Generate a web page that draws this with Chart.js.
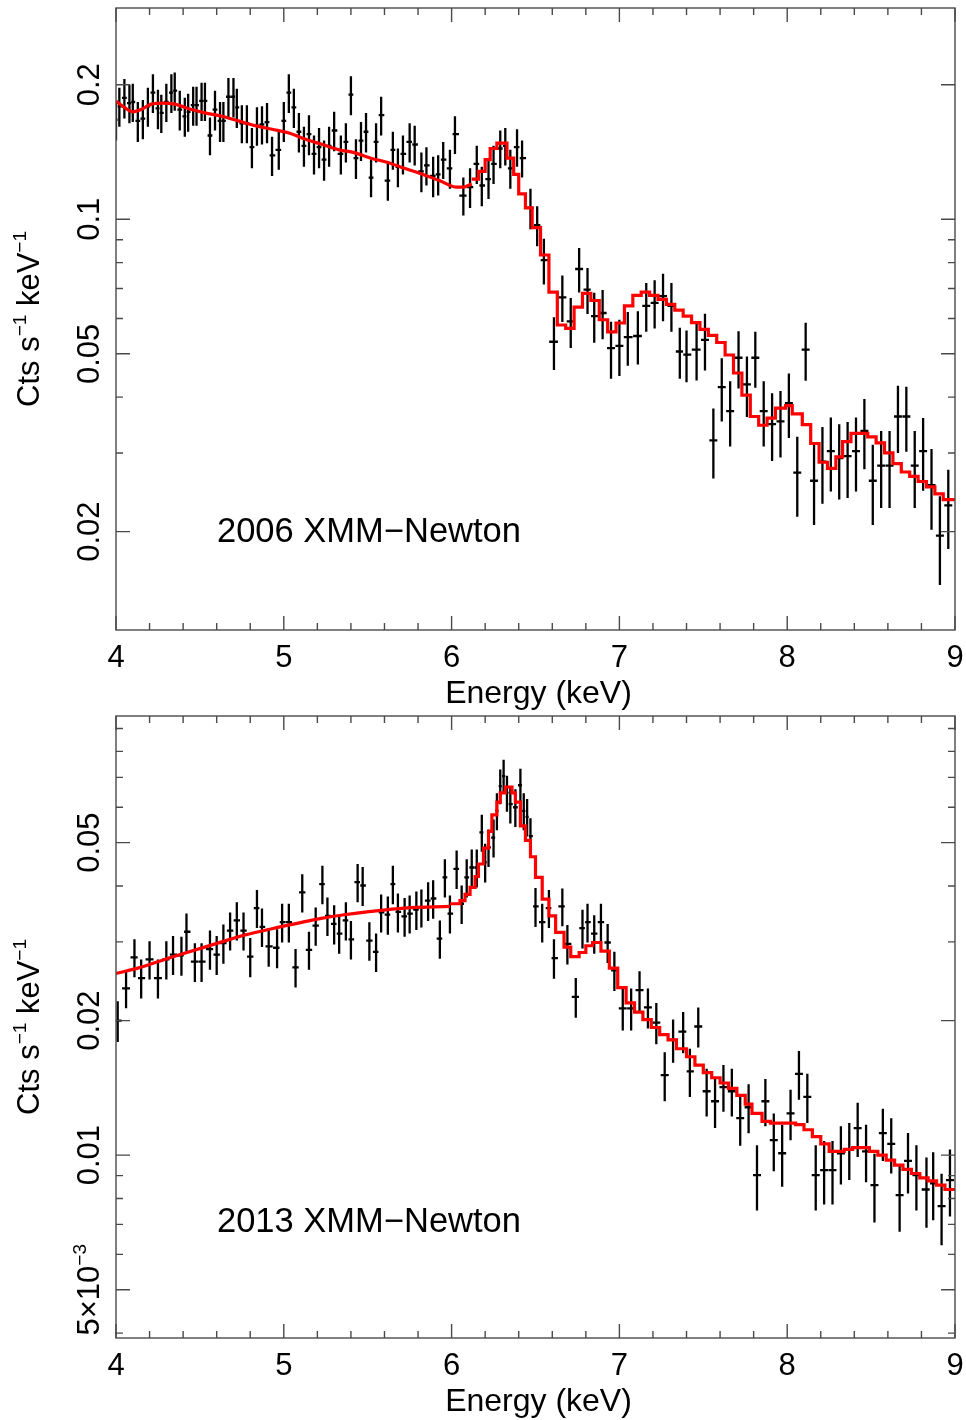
<!DOCTYPE html>
<html>
<head>
<meta charset="utf-8">
<script src="https://cdn.jsdelivr.net/npm/chart.js@4.4.1/dist/chart.umd.min.js"></script>
<style>
  body { margin: 0; background: #fff; }
  #wrap { position: relative; width: 966px; height: 1420px; }
  canvas { position: absolute; left: 0; }
</style>
</head>
<body>
<div id="wrap">
  <canvas id="spec2006" width="966" height="720" style="top:0"></canvas>
  <canvas id="spec2013" width="966" height="712" style="top:708px"></canvas>
</div>
<script>
// ---- 2006 XMM-Newton spectrum: bin centres (keV), rate (cts/s/keV), 1-sigma error
const energy2006 = [
  4.00,4.02,4.05,4.08,4.10,4.13,4.16,4.19,4.22,4.25,
  4.27,4.30,4.33,4.35,4.38,4.41,4.43,4.46,4.48,4.51,
  4.53,4.56,4.59,4.62,4.64,4.67,4.70,4.72,4.75,4.78,
  4.81,4.84,4.87,4.90,4.93,4.97,5.00,5.03,5.06,5.09,
  5.12,5.15,5.18,5.21,5.24,5.27,5.30,5.34,5.37,5.40,
  5.43,5.46,5.49,5.52,5.55,5.58,5.62,5.65,5.68,5.71,
  5.75,5.78,5.82,5.85,5.89,5.92,5.95,5.99,6.02,6.07,
  6.11,6.15,6.18,6.22,6.25,6.29,6.32,6.35,6.39,6.42,
  6.47,6.51,6.55,6.61,6.66,6.71,6.76,6.81,6.85,6.90,
  6.95,7.00,7.05,7.11,7.16,7.21,7.26,7.31,7.36,7.40,
  7.46,7.51,7.56,7.61,7.66,7.71,7.76,7.81,7.86,7.91,
  7.96,8.01,8.06,8.11,8.16,8.21,8.26,8.31,8.36,8.41,
  8.46,8.51,8.56,8.61,8.66,8.71,8.76,8.81,8.86,8.91,8.96
];
const rate2006 = [
  0.167,0.179,0.187,0.182,0.183,0.166,0.168,0.179,0.192,0.177,
  0.173,0.183,0.192,0.194,0.176,0.170,0.174,0.180,0.180,0.184,
  0.184,0.154,0.176,0.166,0.166,0.188,0.188,0.178,0.164,0.164,
  0.145,0.162,0.163,0.165,0.139,0.143,0.166,0.192,0.178,0.157,
  0.146,0.155,0.140,0.145,0.136,0.146,0.158,0.140,0.149,0.190,
  0.137,0.150,0.157,0.124,0.149,0.171,0.122,0.143,0.131,0.140,
  0.149,0.147,0.128,0.132,0.125,0.126,0.136,0.130,0.155,0.113,
  0.118,0.133,0.119,0.123,0.133,0.144,0.146,0.130,0.145,0.137,
  0.106,0.097,0.081,0.0532,0.0669,0.0591,0.0774,0.0696,0.0607,0.0617,
  0.0515,0.0521,0.0545,0.0548,0.0640,0.0650,0.0673,0.0640,0.0506,0.0498,
  0.0511,0.0537,0.0320,0.0421,0.0372,0.0490,0.0427,0.0490,0.0372,0.0348,
  0.0353,0.0388,0.0271,0.0511,0.0260,0.0287,0.0303,0.0292,0.0295,0.0303,
  0.0336,0.0260,0.0281,0.0281,0.0362,0.0362,0.0281,0.0303,0.0254,0.0196,0.0229
];
const err2006 = [
  0.017,0.018,0.019,0.018,0.018,0.017,0.017,0.018,0.019,0.018,
  0.017,0.018,0.019,0.019,0.018,0.017,0.017,0.018,0.018,0.018,
  0.018,0.015,0.018,0.017,0.017,0.019,0.019,0.018,0.016,0.016,
  0.015,0.016,0.016,0.017,0.014,0.014,0.017,0.019,0.018,0.016,
  0.015,0.016,0.014,0.015,0.014,0.015,0.016,0.014,0.015,0.019,
  0.014,0.015,0.016,0.012,0.015,0.017,0.012,0.014,0.013,0.014,
  0.015,0.015,0.013,0.013,0.013,0.013,0.013,0.013,0.015,0.011,
  0.012,0.013,0.012,0.012,0.013,0.014,0.014,0.013,0.014,0.013,
  0.011,0.010,0.0095,0.0072,0.0080,0.0076,0.0088,0.0082,0.0078,0.0078,
  0.0075,0.0075,0.0075,0.0075,0.0080,0.0080,0.0082,0.0080,0.0066,0.0066,
  0.0075,0.0078,0.0057,0.0068,0.0062,0.0072,0.0066,0.0070,0.0062,0.0060,
  0.0060,0.0064,0.0055,0.0076,0.0053,0.0056,0.0057,0.0056,0.0057,0.0057,
  0.0060,0.0053,0.0055,0.0055,0.0062,0.0060,0.0055,0.0056,0.0052,0.0044,0.0046
];
// folded model: finely binned continuum below the Fe line ...
const modelLowE2006 = [4.00,4.05,4.10,4.15,4.21,4.28,4.35,4.45,4.53,4.63,4.73,4.83,4.93,
  5.03,5.13,5.23,5.33,5.42,5.52,5.62,5.72,5.83,5.93,6.03,6.07,6.12];
const modelLow2006 = [0.184,0.178,0.174,0.176,0.181,0.182,0.181,0.176,0.173,0.170,0.166,0.162,0.159,
  0.156,0.151,0.147,0.143,0.141,0.137,0.134,0.130,0.126,0.122,0.118,0.118,0.120];
// ... and wider bins above it (left edges; the last entry closes the final bin)
const modelBinE2006 = [6.12,6.16,6.20,6.23,6.27,6.33,6.37,6.40,6.44,6.48,
  6.53,6.58,6.63,6.68,6.73,6.78,6.83,6.88,6.93,6.98,
  7.03,7.08,7.13,7.18,7.23,7.28,7.33,7.38,7.43,7.48,
  7.53,7.58,7.63,7.68,7.73,7.78,7.83,7.88,7.93,7.99,
  8.03,8.09,8.14,8.19,8.24,8.29,8.33,8.38,8.43,8.48,
  8.53,8.58,8.63,8.68,8.73,8.78,8.83,8.88,8.93,9.00];
const modelBin2006 = [0.123,0.128,0.136,0.144,0.148,0.137,0.126,0.114,0.106,0.0958,
  0.0832,0.0687,0.0580,0.0570,0.0636,0.0683,0.0658,0.0596,0.0560,0.0586,
  0.0640,0.0676,0.0687,0.0676,0.0662,0.0645,0.0626,0.0607,0.0587,0.0567,
  0.0550,0.0530,0.0497,0.0453,0.0404,0.0362,0.0346,0.0359,0.0378,0.0383,
  0.0367,0.0347,0.0315,0.0286,0.0277,0.0294,0.0318,0.0332,0.0332,0.0326,
  0.0316,0.0300,0.0284,0.0272,0.0266,0.0259,0.0252,0.0243,0.0236,0.0236];

// ---- 2013 XMM-Newton spectrum
const energy2013 = [
  4.01,4.06,4.11,4.15,4.20,4.25,4.30,4.34,4.39,4.42,
  4.47,4.51,4.56,4.60,4.64,4.68,4.72,4.76,4.80,4.84,
  4.87,4.91,4.96,4.99,5.03,5.07,5.11,5.15,5.19,5.23,
  5.26,5.30,5.33,5.37,5.40,5.44,5.47,5.51,5.55,5.58,
  5.62,5.65,5.68,5.72,5.75,5.79,5.82,5.86,5.89,5.93,
  5.96,5.99,6.03,6.06,6.09,6.12,6.15,6.18,6.20,6.22,
  6.25,6.27,6.29,6.31,6.33,6.35,6.38,6.41,6.43,6.45,
  6.47,6.50,6.54,6.58,6.61,6.66,6.69,6.74,6.78,6.81,
  6.85,6.89,6.93,6.97,7.02,7.07,7.12,7.17,7.22,7.27,
  7.32,7.38,7.42,7.47,7.52,7.57,7.62,7.67,7.72,7.77,
  7.82,7.87,7.92,7.97,8.02,8.07,8.12,8.17,8.22,8.27,
  8.32,8.37,8.42,8.47,8.52,8.57,8.62,8.67,8.72,8.77,
  8.83,8.87,8.92,8.97
];
const rate2013 = [
  0.0200,0.0236,0.0277,0.0249,0.0274,0.0249,0.0274,0.0281,0.0280,0.0316,
  0.0271,0.0271,0.0289,0.0281,0.0298,0.0318,0.0335,0.0318,0.0278,0.0357,
  0.0324,0.0293,0.0291,0.0332,0.0332,0.0263,0.0387,0.0288,0.0326,0.0404,
  0.0343,0.0329,0.0313,0.0335,0.0304,0.0408,0.0401,0.0302,0.0285,0.0349,
  0.0345,0.0404,0.0350,0.0342,0.0347,0.0354,0.0358,0.0371,0.0375,0.0305,
  0.0418,0.0347,0.0437,0.0365,0.0418,0.0440,0.0440,0.0527,0.0452,0.0488,
  0.0513,0.0589,0.0669,0.0704,0.0646,0.0610,0.0600,0.0672,0.0589,0.0571,
  0.0517,0.0360,0.0332,0.0357,0.0276,0.0360,0.0297,0.0226,0.0322,0.0332,
  0.0313,0.0332,0.0299,0.0259,0.0213,0.0213,0.0234,0.0214,0.0198,0.0151,
  0.0181,0.0189,0.0154,0.0194,0.0139,0.0132,0.0142,0.0139,0.0121,0.0128,
  0.00902,0.0132,0.0108,0.0101,0.0124,0.0152,0.0135,0.00902,0.00926,0.00926,
  0.0101,0.0103,0.0115,0.0102,0.00857,0.0112,0.0106,0.00814,0.00971,0.00902,
  0.00838,0.00865,0.00769,0.00879
];
const err2013 = [
  0.0021,0.0023,0.0027,0.0025,0.0027,0.0025,0.0027,0.0028,0.0028,0.0031,
  0.0027,0.0027,0.0029,0.0028,0.0030,0.0031,0.0033,0.0031,0.0028,0.0035,
  0.0032,0.0029,0.0029,0.0033,0.0033,0.0026,0.0038,0.0028,0.0032,0.0040,
  0.0034,0.0033,0.0031,0.0033,0.0030,0.0040,0.0040,0.0030,0.0028,0.0034,
  0.0034,0.0040,0.0035,0.0034,0.0034,0.0035,0.0035,0.0037,0.0037,0.0030,
  0.0041,0.0034,0.0043,0.0036,0.0041,0.0043,0.0043,0.0050,0.0045,0.0047,
  0.0050,0.0056,0.0060,0.0062,0.0060,0.0058,0.0058,0.0060,0.0056,0.0055,
  0.0050,0.0036,0.0033,0.0035,0.0028,0.0035,0.0030,0.0023,0.0032,0.0033,
  0.0031,0.0033,0.0030,0.0026,0.0023,0.0023,0.0024,0.0022,0.0021,0.0019,
  0.0020,0.0020,0.0019,0.0020,0.0017,0.0017,0.0017,0.0017,0.0016,0.0016,
  0.0015,0.0016,0.0016,0.0016,0.0016,0.0019,0.0017,0.0015,0.0015,0.0015,
  0.0015,0.0015,0.0016,0.0015,0.0015,0.0015,0.0015,0.0014,0.0015,0.0015,
  0.0015,0.0015,0.0014,0.0015
];
const modelLowE2013 = [4.00,4.13,4.33,4.63,4.77,4.93,5.23,5.36,5.52,5.72,5.99];
const modelLow2013 = [0.0255,0.0262,0.0277,0.0300,0.0311,0.0321,0.0339,0.0345,0.0351,0.0357,0.0360];
const modelBinE2013 = [5.99,6.05,6.08,6.11,6.14,6.16,6.19,6.22,6.24,6.27,
  6.29,6.32,6.36,6.38,6.41,6.44,6.47,6.50,6.54,6.58,
  6.62,6.67,6.71,6.76,6.80,6.84,6.89,6.94,6.99,7.04,
  7.09,7.14,7.19,7.24,7.29,7.34,7.40,7.45,7.50,7.55,
  7.60,7.65,7.70,7.75,7.79,7.85,7.90,7.95,8.00,8.05,
  8.10,8.15,8.20,8.25,8.30,8.34,8.39,8.44,8.49,8.54,
  8.59,8.64,8.69,8.74,8.79,8.84,8.89,8.94,9.00];
const modelBin2013 = [0.0365,0.0371,0.0383,0.0397,0.0420,0.0448,0.0486,0.0530,0.0577,0.0616,
  0.0646,0.0666,0.0646,0.0616,0.0545,0.0506,0.0465,0.0418,0.0374,0.0343,
  0.0315,0.0292,0.0278,0.0284,0.0294,0.0299,0.0286,0.0262,0.0237,0.0219,
  0.0209,0.0201,0.0193,0.0186,0.0181,0.0173,0.0166,0.0159,0.0153,0.0149,
  0.0145,0.0141,0.0136,0.0130,0.0124,0.0119,0.0118,0.0118,0.0118,0.0117,
  0.0114,0.0110,0.0106,0.0102,0.0102,0.0103,0.0104,0.0104,0.0102,0.0100,
  0.00975,0.00950,0.00929,0.00910,0.00890,0.00876,0.00857,0.00838,0.00838];

// axis ticks and labels
const energyTicks = [4, 5, 6, 7, 8, 9];
const rateTicks2006 = [0.02, 0.05, 0.1, 0.2];
const rateLabels2006 = [[['0.02']], [['0.05']], [['0.1']], [['0.2']]];
const rateTicks2013 = [0.005, 0.01, 0.02, 0.05];
const rateLabels2013 = [[['5×10'], ['−3', true]], [['0.01']], [['0.02']], [['0.05']]];

const FONT = '"Liberation Sans", Arial, Helvetica, sans-serif';

// text turned to read bottom-to-top, centred on (x, y); x is the baseline
function rotatedText(ctx, x, y, parts, size) {
  const small = Math.round(size * 0.62);
  const widths = parts.map(([t, up]) => {
    ctx.font = (up ? small : size) + 'px ' + FONT;
    return ctx.measureText(t).width;
  });
  const total = widths.reduce((a, b) => a + b, 0);
  ctx.save();
  ctx.translate(x, y);
  ctx.rotate(-Math.PI / 2);
  ctx.textAlign = 'left';
  ctx.textBaseline = 'alphabetic';
  let cx = -total / 2;
  parts.forEach(([t, up], i) => {
    ctx.font = (up ? small : size) + 'px ' + FONT;
    ctx.fillText(t, cx, up ? -size * 0.42 : 0);
    cx += widths[i];
  });
  ctx.restore();
}

const spectrumFrame = {
  id: 'spectrumFrame',
  // data crosses go under the model curve
  beforeDatasetsDraw(chart, args, opts) {
    const { ctx, chartArea: a, scales: { x: xs, y: ys } } = chart;
    const ds = chart.data.datasets[opts.dataIndex];
    const meta = chart.getDatasetMeta(opts.dataIndex);
    const pts = ds.data;
    ctx.save();
    ctx.beginPath();
    ctx.rect(a.left, a.top, a.right - a.left, a.bottom - a.top);
    ctx.clip();
    ctx.strokeStyle = '#000';
    ctx.lineWidth = 2.3;
    ctx.beginPath();
    meta.data.forEach((el, i) => {
      const p = pts[i];
      const dl = i > 0 ? (p.x - pts[i - 1].x) / 2 : (pts[i + 1].x - p.x) / 2;
      const dr = i < pts.length - 1 ? (pts[i + 1].x - p.x) / 2 : dl;
      const x0 = xs.getPixelForValue(p.x - dl * 0.95);
      const x1 = xs.getPixelForValue(p.x + dr * 0.95);
      const yTop = ys.getPixelForValue(p.y + p.err);
      const yBot = ys.getPixelForValue(Math.max(p.y - p.err, 1e-6));
      ctx.moveTo(el.x, yTop); ctx.lineTo(el.x, yBot);
      ctx.moveTo(x0, el.y); ctx.lineTo(x1, el.y);
    });
    ctx.stroke();
    ctx.restore();
  },
  afterDraw(chart, args, opts) {
    const { ctx, chartArea: a, scales: { x: xs, y: ys } } = chart;
    ctx.save();
    ctx.strokeStyle = '#4a4a4a';
    ctx.lineWidth = 1.4;
    ctx.strokeRect(a.left, a.top, a.right - a.left, a.bottom - a.top);
    ctx.beginPath();
    // energy ticks every 0.2 keV, long ones on whole keV
    for (let k = 0; k <= 25; k++) {
      const px = xs.getPixelForValue(xs.min + k * 0.2);
      const len = k % 5 === 0 ? 14 : 7;
      ctx.moveTo(px, a.bottom); ctx.lineTo(px, a.bottom - len);
      ctx.moveTo(px, a.top); ctx.lineTo(px, a.top + len);
    }
    // log ticks at 1..9 x 10^n, long ones where labelled
    const d0 = Math.floor(Math.log10(ys.min)), d1 = Math.ceil(Math.log10(ys.max));
    for (let d = d0; d <= d1; d++) {
      for (let m = 1; m <= 9; m++) {
        const v = m * Math.pow(10, d);
        if (v < ys.min || v > ys.max) continue;
        const py = ys.getPixelForValue(v);
        const major = opts.yTicks.some(t => Math.abs(t / v - 1) < 1e-6);
        const len = major ? 14 : 7;
        ctx.moveTo(a.left, py); ctx.lineTo(a.left + len, py);
        ctx.moveTo(a.right, py); ctx.lineTo(a.right - len, py);
      }
    }
    ctx.stroke();

    ctx.fillStyle = '#000';
    ctx.textAlign = 'center';
    ctx.textBaseline = 'alphabetic';
    ctx.font = '31px ' + FONT;
    energyTicks.forEach(e => ctx.fillText(String(e), xs.getPixelForValue(e), a.bottom + 37));
    ctx.font = '32px ' + FONT;
    ctx.fillText('Energy (keV)', (a.left + a.right) / 2 + 3, a.bottom + 73);

    opts.yTicks.forEach((v, i) => rotatedText(ctx, 99, ys.getPixelForValue(v), opts.yLabels[i], 31));
    rotatedText(ctx, 39, (a.top + a.bottom) / 2,
      [['Cts s'], ['−1', true], [' keV'], ['−1', true]], 31);

    ctx.textAlign = 'left';
    ctx.font = '34.5px ' + FONT;
    ctx.fillText(opts.title, 217, opts.titleY);
    ctx.restore();
  }
};

function drawSpectrum(id, s) {
  const canvas = document.getElementById(id);
  const obs = s.energy.map((e, i) => ({ x: e, y: s.rate[i], err: s.err[i] }));
  const low = s.lowE.map((e, i) => ({ x: e, y: s.low[i] }));
  const bins = s.binE.map((e, i) => ({ x: e, y: s.bin[i] }));
  const modelStyle = {
    type: 'line', borderColor: '#ff0000', borderWidth: 3.2, pointRadius: 0,
    fill: false, borderJoinStyle: 'miter', borderCapStyle: 'butt'
  };
  new Chart(canvas, {
    type: 'scatter',
    data: {
      datasets: [
        Object.assign({ data: bins, stepped: true, order: 0 }, modelStyle),
        Object.assign({ data: low, cubicInterpolationMode: 'monotone', order: 1 }, modelStyle),
        { data: obs, pointRadius: 0, pointHoverRadius: 0, order: 2 }
      ]
    },
    options: {
      responsive: false,
      animation: false,
      devicePixelRatio: 1,
      layout: { padding: { left: 0, right: 11, top: 8, bottom: 0 } },
      plugins: {
        legend: { display: false },
        tooltip: { enabled: false },
        spectrumFrame: {
          dataIndex: 2, yTicks: s.yTicks, yLabels: s.yLabels,
          title: s.title, titleY: s.titleY
        }
      },
      scales: {
        x: {
          type: 'linear', min: 4, max: 9,
          ticks: { display: false }, grid: { display: false }, border: { display: false },
          afterFit(sc) { sc.height = canvas.height - 630; }
        },
        y: {
          type: 'logarithmic', min: s.yMin, max: s.yMax,
          ticks: { display: false }, grid: { display: false }, border: { display: false },
          afterFit(sc) { sc.width = 116; }
        }
      }
    },
    plugins: [spectrumFrame]
  });
}

drawSpectrum('spec2006', {
  energy: energy2006, rate: rate2006, err: err2006,
  lowE: modelLowE2006, low: modelLow2006, binE: modelBinE2006, bin: modelBin2006,
  yMin: 0.01205, yMax: 0.297, yTicks: rateTicks2006, yLabels: rateLabels2006,
  title: '2006 XMM−Newton', titleY: 542
});
drawSpectrum('spec2013', {
  energy: energy2013, rate: rate2013, err: err2013,
  lowE: modelLowE2013, low: modelLow2013, binE: modelBinE2013, bin: modelBin2013,
  yMin: 0.0039, yMax: 0.096, yTicks: rateTicks2013, yLabels: rateLabels2013,
  title: '2013 XMM−Newton', titleY: 524
});
</script>
</body>
</html>
